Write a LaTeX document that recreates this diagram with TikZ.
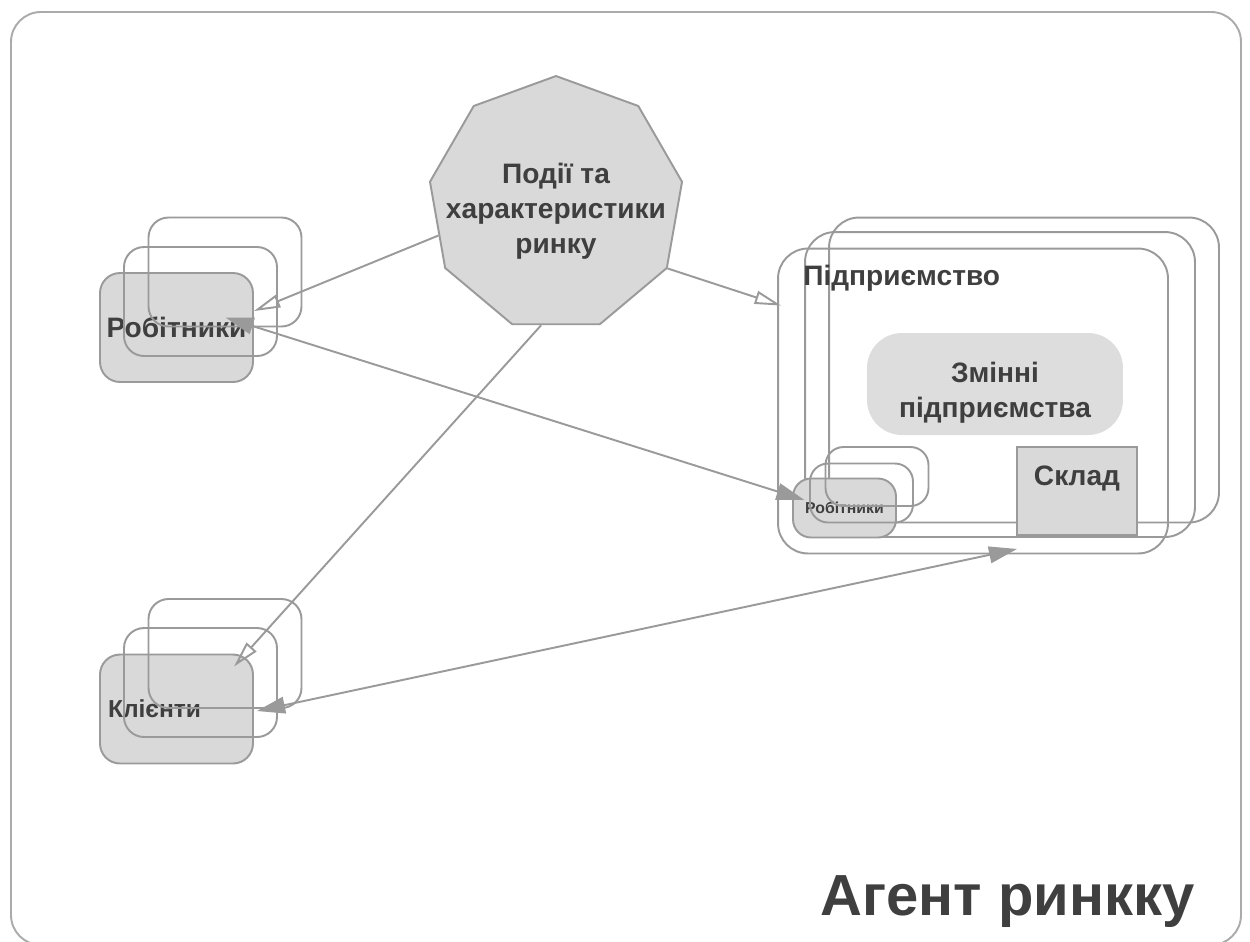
\documentclass[tikz,border=0pt]{standalone}
\usepackage{fontspec}
\setmainfont{Liberation Sans}
\usetikzlibrary{arrows.meta,calc,positioning,shapes.geometric}
\definecolor{boxgray}{HTML}{D9D9D9}
\definecolor{linegray}{HTML}{9A9A9A}
\definecolor{framegray}{HTML}{ABABAB}
\definecolor{inkgray}{HTML}{3F3F3F}
\definecolor{softgray}{HTML}{DDDDDD}

\begin{document}
\begin{tikzpicture}[x=0.02cm, y=-0.02cm,
  card/.style={draw=linegray, line width=1.1pt, rounded corners=0.4cm, minimum width=3.06cm, minimum height=2.18cm},
  cardfill/.style={card, fill=boxgray, text=inkgray},
  firm/.style={draw=linegray, line width=1.1pt, rounded corners=0.6cm, minimum width=7.8cm, minimum height=6.1cm},
  minicard/.style={draw=linegray, line width=1.1pt, rounded corners=0.36cm, minimum width=2.06cm, minimum height=1.18cm},
  txt/.style={text=inkgray, font=\bfseries\fontsize{16}{20}\selectfont, inner sep=0pt},
  link/.style={draw=linegray, line width=1.1pt},
  feed/.style={link, -{Triangle[open, length=15pt, width=7.5pt]}},
  trade/.style={link, {Triangle[length=16pt, width=9.5pt]}-{Triangle[length=16pt, width=9.5pt]}}]
  \useasboundingbox (0,0) rectangle (1250,941);
  \draw[framegray, line width=1.1pt, rounded corners=0.6cm] (11,12) rectangle (1241,945);

  \node[regular polygon, regular polygon sides=9, minimum size=5.12cm, inner sep=0pt,
        fill=boxgray, draw=linegray, line width=1.1pt] (events) at (556,204) {};
  \node[txt, align=center] (eventsname) at (556,211) {Події та\\характеристики\\ринку};

  \node[cardfill, font=\bfseries\fontsize{16}{20}\selectfont] (wfront) at (176.5,327.5) {Робітники};
  \node[card] (wmid) at (200.5,301.5) {};
  \node[card] (wback) at (225,272) {};

  \node[cardfill, font=\bfseries\fontsize{14}{17}\selectfont, align=left,
        text width=2.74cm, inner xsep=0.16cm] (cfront) at (176.5,709) {Клієнти};
  \node[card] (cmid) at (200.5,682.5) {};
  \node[card] (cback) at (225,653.5) {};

  \node[firm] (efront) at (973,401) {};
  \node[firm] (emid) at (1000,384.5) {};
  \node[firm] (eback) at (1024,370) {};
  \node[txt, anchor=base west] (firmname) at (803,285) {Підприємство};
  \node[fill=softgray, rounded corners=0.7cm, minimum width=5.12cm, minimum height=2.04cm] (vars) at (995,384) {};
  \node[txt, align=center] (varsname) at (995,393) {Змінні\\підприємства};
  \node[draw=linegray, fill=boxgray, line width=1.1pt, minimum width=2.4cm,
        minimum height=1.76cm] (store) at (1077,491) {};
  \node[txt, anchor=base] (storename) at ($(store.north)+(0,39)$) {Склад};

  \node[minicard, fill=boxgray, text=inkgray, font=\bfseries\fontsize{9}{11}\selectfont] (sfront) at (844.5,508) {Робітники};
  \node[minicard] (smid) at (861.5,493) {};
  \node[minicard] (sback) at (877,476.5) {};

  \node[txt, font=\bfseries\fontsize{33}{40}\selectfont, anchor=base east] (title) at (1195,915) {Агент ринкку};

  \draw[feed] (events.195) -- (wfront.12);
  \draw[feed] (events.330) -- ($(efront.north west)+(4,58)$);
  \draw[feed] (events.263) -- ($(cfront.north east)+(-20,13)$);
  \draw[trade] ($(wfront.center)+(49,-10)$) -- ($(sfront.center)+(-40,-8)$);
  \draw[trade] ($(cfront.east)+(3,2)$) -- ($(store.south west)+(1,13)$);
\end{tikzpicture}
\end{document}
